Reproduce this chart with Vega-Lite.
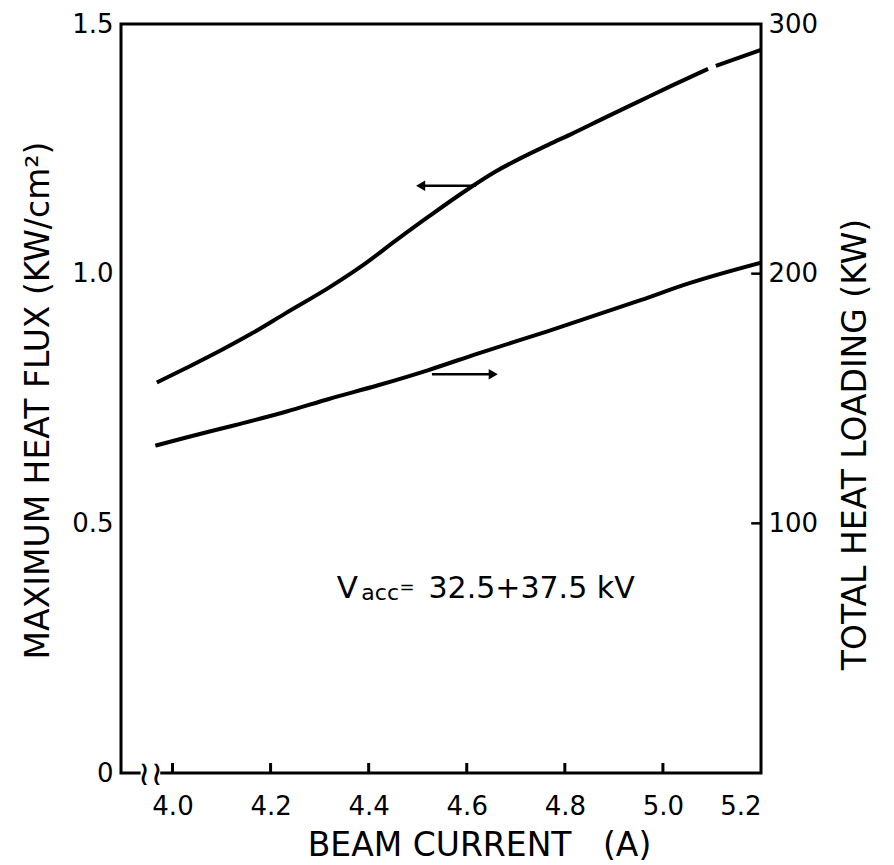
{
  "$schema": "https://vega.github.io/schema/vega-lite/v6.json",
  "width": 640,
  "height": 749,
  "autosize": "none",
  "padding": {"left": 121, "top": 24, "right": 133, "bottom": 92},
  "background": "white",
  "config": {
    "view": {"stroke": "black", "strokeWidth": 3},
    "font": "DejaVu Sans",
    "axis": {
      "grid": false,
      "domain": false,
      "ticks": false,
      "labelColor": "black",
      "titleColor": "black",
      "labelFont": "DejaVu Sans",
      "titleFont": "DejaVu Sans",
      "labelFontSize": 26,
      "titleFontSize": 33,
      "titleFontWeight": "normal"
    }
  },
  "datasets": {
    "flux": [
      {"current": 3.968, "flux": 0.782, "seg": "a"},
      {"current": 4.028, "flux": 0.811, "seg": "a"},
      {"current": 4.096, "flux": 0.845, "seg": "a"},
      {"current": 4.163, "flux": 0.881, "seg": "a"},
      {"current": 4.231, "flux": 0.921, "seg": "a"},
      {"current": 4.319, "flux": 0.972, "seg": "a"},
      {"current": 4.387, "flux": 1.016, "seg": "a"},
      {"current": 4.455, "flux": 1.066, "seg": "a"},
      {"current": 4.522, "flux": 1.114, "seg": "a"},
      {"current": 4.590, "flux": 1.161, "seg": "a"},
      {"current": 4.658, "flux": 1.204, "seg": "a"},
      {"current": 4.766, "flux": 1.258, "seg": "a"},
      {"current": 4.814, "flux": 1.280, "seg": "a"},
      {"current": 4.881, "flux": 1.312, "seg": "a"},
      {"current": 4.949, "flux": 1.344, "seg": "a"},
      {"current": 5.017, "flux": 1.376, "seg": "a"},
      {"current": 5.092, "flux": 1.410, "seg": "a"},
      {"current": 5.108, "flux": 1.416, "seg": "b"},
      {"current": 5.200, "flux": 1.448, "seg": "b"}
    ],
    "load": [
      {"current": 3.965, "kw": 131.1},
      {"current": 4.028, "kw": 134.4},
      {"current": 4.129, "kw": 139.4},
      {"current": 4.231, "kw": 144.7},
      {"current": 4.319, "kw": 149.8},
      {"current": 4.421, "kw": 155.4},
      {"current": 4.522, "kw": 161.4},
      {"current": 4.624, "kw": 168.1},
      {"current": 4.766, "kw": 177.0},
      {"current": 4.956, "kw": 189.5},
      {"current": 5.051, "kw": 196.0},
      {"current": 5.200, "kw": 204.4}
    ],
    "arrows": [
      {"tip": 4.506, "start": 4.619, "y": 1.176, "dir": "left"},
      {"tip": 4.654, "start": 4.529, "y": 0.7985, "dir": "right"}
    ],
    "xticks": [
      {"x": 4.0}, {"x": 4.2}, {"x": 4.4}, {"x": 4.6}, {"x": 4.8}, {"x": 5.0}
    ],
    "rticks": [
      {"kw": 100}, {"kw": 200}
    ]
  },
  "layer": [
    {
      "layer": [
        {
          "data": {"name": "flux"},
          "mark": {"type": "line", "color": "black", "strokeWidth": 4, "clip": true, "interpolate": "monotone"},
          "encoding": {
            "x": {
              "field": "current", "type": "quantitative",
              "scale": {"domain": [3.895, 5.2], "nice": false, "zero": false},
              "axis": {
                "values": [4.0, 4.2, 4.4, 4.6, 4.8, 5.0, 5.2],
                "format": ".1f",
                "labelPadding": 20,
                "title": "BEAM CURRENT\u00a0\u00a0\u00a0(A)",
                "titleX": 358,
                "titleY": 72,
                "titleAlign": "center",
                "titleBaseline": "middle"
              }
            },
            "y": {
              "field": "flux", "type": "quantitative",
              "scale": {"domain": [0, 1.5], "nice": false, "zero": false},
              "axis": {
                "orient": "left",
                "values": [0, 0.5, 1.0, 1.5],
                "labelExpr": "datum.value == 0 ? '0' : format(datum.value, '.1f')",
                "labelPadding": 8,
                "title": "MAXIMUM HEAT FLUX (KW/cm\u00b2)",
                "titleX": -83,
                "titleY": 376,
                "titleAngle": 270,
                "titleAlign": "center",
                "titleBaseline": "middle"
              }
            },
            "detail": {"field": "seg"}
          }
        },
        {
          "data": {"name": "xticks"},
          "mark": {"type": "rule", "color": "black", "strokeWidth": 3},
          "encoding": {
            "x": {"field": "x", "type": "quantitative"},
            "y": {"datum": 0},
            "y2": {"datum": 0.02}
          }
        },
        {
          "data": {"values": [{"x": 3.935, "x2": 3.975}]},
          "mark": {"type": "rule", "color": "white", "strokeWidth": 8},
          "encoding": {
            "x": {"field": "x", "type": "quantitative"},
            "x2": {"field": "x2"},
            "y": {"datum": 0}
          }
        },
        {
          "data": {"values": [{"x": 3.955, "t": "\u2240\u2240"}]},
          "mark": {"type": "text", "fontSize": 34, "align": "center", "baseline": "middle", "color": "black", "font": "DejaVu Sans", "dy": 2},
          "encoding": {
            "x": {"field": "x", "type": "quantitative"},
            "y": {"datum": 0},
            "text": {"field": "t"}
          }
        },
        {
          "data": {"name": "arrows"},
          "mark": {"type": "rule", "color": "black", "strokeWidth": 2.5},
          "encoding": {
            "x": {"field": "tip", "type": "quantitative"},
            "x2": {"field": "start"},
            "y": {"field": "y", "type": "quantitative"}
          }
        },
        {
          "data": {"name": "arrows"},
          "mark": {"type": "point", "filled": true, "color": "black", "opacity": 1, "size": 110},
          "encoding": {
            "x": {"field": "tip", "type": "quantitative"},
            "y": {"field": "y", "type": "quantitative"},
            "shape": {
              "field": "dir", "type": "nominal",
              "scale": {"domain": ["left", "right"], "range": ["triangle-left", "triangle-right"]},
              "legend": null
            }
          }
        },
        {
          "data": {"values": [{"x": 4.335, "y": 0.3505, "t": "V"}]},
          "mark": {"type": "text", "fontSize": 31, "align": "left", "baseline": "alphabetic", "color": "black", "font": "DejaVu Sans"},
          "encoding": {
            "x": {"field": "x", "type": "quantitative"},
            "y": {"field": "y", "type": "quantitative"},
            "text": {"field": "t"}
          }
        },
        {
          "data": {"values": [{"x": 4.385, "y": 0.3465, "t": "acc"}]},
          "mark": {"type": "text", "fontSize": 22, "align": "left", "baseline": "alphabetic", "color": "black", "font": "DejaVu Sans"},
          "encoding": {
            "x": {"field": "x", "type": "quantitative"},
            "y": {"field": "y", "type": "quantitative"},
            "text": {"field": "t"}
          }
        },
        {
          "data": {"values": [{"x": 4.463, "y": 0.3705, "t": "="}]},
          "mark": {"type": "text", "fontSize": 18, "align": "left", "baseline": "middle", "color": "black", "font": "DejaVu Sans"},
          "encoding": {
            "x": {"field": "x", "type": "quantitative"},
            "y": {"field": "y", "type": "quantitative"},
            "text": {"field": "t"}
          }
        },
        {
          "data": {"values": [{"x": 4.522, "y": 0.3505, "t": "32.5+37.5 kV"}]},
          "mark": {"type": "text", "fontSize": 30, "align": "left", "baseline": "alphabetic", "color": "black", "font": "DejaVu Sans"},
          "encoding": {
            "x": {"field": "x", "type": "quantitative"},
            "y": {"field": "y", "type": "quantitative"},
            "text": {"field": "t"}
          }
        }
      ]
    },
    {
      "layer": [
        {
          "data": {"name": "load"},
          "mark": {"type": "line", "color": "black", "strokeWidth": 4, "clip": true, "interpolate": "monotone"},
          "encoding": {
            "x": {"field": "current", "type": "quantitative"},
            "y": {
              "field": "kw", "type": "quantitative",
              "scale": {"domain": [0, 300], "nice": false, "zero": false},
              "axis": {
                "orient": "right",
                "values": [100, 200, 300],
                "labelPadding": 7,
                "title": "TOTAL HEAT LOADING (KW)",
                "titleX": 94,
                "titleY": 420,
                "titleAngle": 270,
                "titleAlign": "center",
                "titleBaseline": "middle"
              }
            }
          }
        },
        {
          "data": {"name": "rticks"},
          "mark": {"type": "rule", "color": "black", "strokeWidth": 2.5},
          "encoding": {
            "x": {"datum": 5.18},
            "x2": {"datum": 5.2},
            "y": {"field": "kw", "type": "quantitative"}
          }
        }
      ]
    }
  ],
  "resolve": {"scale": {"y": "independent"}}
}
